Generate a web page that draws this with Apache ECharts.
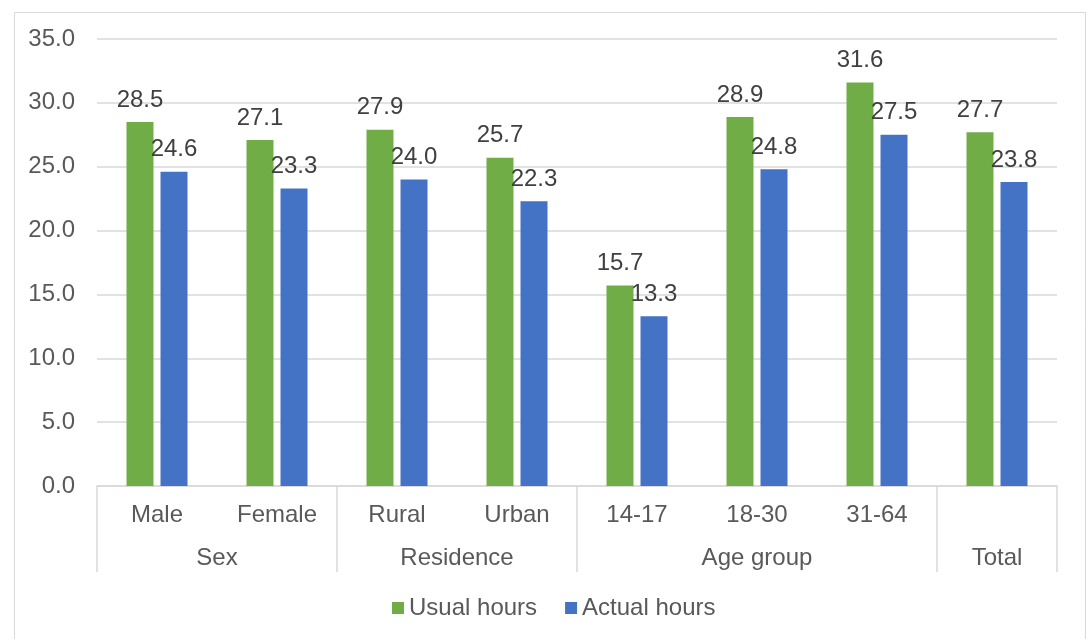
<!DOCTYPE html>
<html>
<head>
<meta charset="utf-8">
<script src="https://cdn.jsdelivr.net/npm/echarts@6/dist/echarts.min.js"></script>
<style>
  html, body { margin: 0; padding: 0; background: #fff; }
  #chart { width: 1088px; height: 639px; }
</style>
</head>
<body>
<div id="chart"></div>
<script>
// categories (first level) and groups (second level)
var categories = ['Male', 'Female', 'Rural', 'Urban', '14-17', '18-30', '31-64', ''];
var groups = ['Sex', 'Residence', 'Age group', 'Total'];
var groupSpans = [2, 2, 3, 1];

// series values
var usualHours = [28.5, 27.1, 27.9, 25.7, 15.7, 28.9, 31.6, 27.7];
var actualHours = [24.6, 23.3, 24.0, 22.3, 13.3, 24.8, 27.5, 23.8];

var FONT = 'Liberation Sans, Arial, sans-serif';
var FS = 24;

// group labels sit on a half-step axis (2 points per category)
var groupAxisData = new Array(categories.length * 2 + 1).fill('');
var groupTickIdx = [0];
(function () {
  var start = 0;
  for (var i = 0; i < groups.length; i++) {
    groupAxisData[start * 2 + groupSpans[i]] = groups[i];
    start += groupSpans[i];
    groupTickIdx.push(start);
  }
})();

var chart = echarts.init(document.getElementById('chart'));

var option = {
  animation: false,
  textStyle: { fontFamily: FONT },
  graphic: [{
    type: 'rect',
    left: 12, top: 10,
    shape: { width: 1071, height: 640 },
    style: { fill: 'none', stroke: '#d9d9d9', lineWidth: 1 },
    silent: true
  }],
  grid: { left: 97, right: 31, top: 39, bottom: 153 },
  legend: {
    bottom: 14,
    left: 387,
    itemWidth: 12,
    itemHeight: 12,
    itemGap: 28,
    selectedMode: false,
    icon: 'rect',
    textStyle: { fontSize: FS, color: '#595959', fontFamily: FONT },
    data: ['Usual hours', 'Actual hours']
  },
  xAxis: [{
    type: 'category',
    data: categories,
    axisLine: { lineStyle: { color: '#d9d9d9', width: 1.5 } },
    axisTick: {
      show: true,
      length: 86,
      lineStyle: { color: '#d9d9d9', width: 1.5 },
      interval: function (idx) { return groupTickIdx.indexOf(idx) >= 0; }
    },
    axisLabel: { interval: 0, fontSize: FS, color: '#595959', margin: 17, fontFamily: FONT }
  }, {
    type: 'category',
    position: 'bottom',
    offset: 43,
    boundaryGap: false,
    data: groupAxisData,
    axisLine: { show: false },
    axisTick: { show: false },
    axisLabel: { interval: 0, fontSize: FS, color: '#595959', margin: 17, fontFamily: FONT }
  }],
  yAxis: {
    type: 'value',
    min: 0,
    max: 35,
    interval: 5,
    axisLine: { show: false },
    axisTick: { show: false },
    splitLine: { lineStyle: { color: '#d9d9d9', width: 1.5 } },
    axisLabel: {
      fontSize: FS, color: '#595959', margin: 22, fontFamily: FONT,
      formatter: function (v) { return v.toFixed(1); }
    }
  },
  series: [{
    name: 'Usual hours',
    type: 'bar',
    xAxisIndex: 0,
    data: usualHours,
    barWidth: 27,
    barGap: '26%',
    itemStyle: { color: '#70AD47' },
    label: {
      show: true, position: 'top', distance: 10,
      fontSize: FS, color: '#404040', fontFamily: FONT,
      formatter: function (p) { return p.value.toFixed(1); }
    }
  }, {
    name: 'Actual hours',
    type: 'bar',
    xAxisIndex: 0,
    data: actualHours,
    barWidth: 27,
    barGap: '26%',
    itemStyle: { color: '#4472C4' },
    label: {
      show: true, position: 'top', distance: 10,
      fontSize: FS, color: '#404040', fontFamily: FONT,
      formatter: function (p) { return p.value.toFixed(1); }
    }
  }]
};

chart.setOption(option);
</script>
</body>
</html>
